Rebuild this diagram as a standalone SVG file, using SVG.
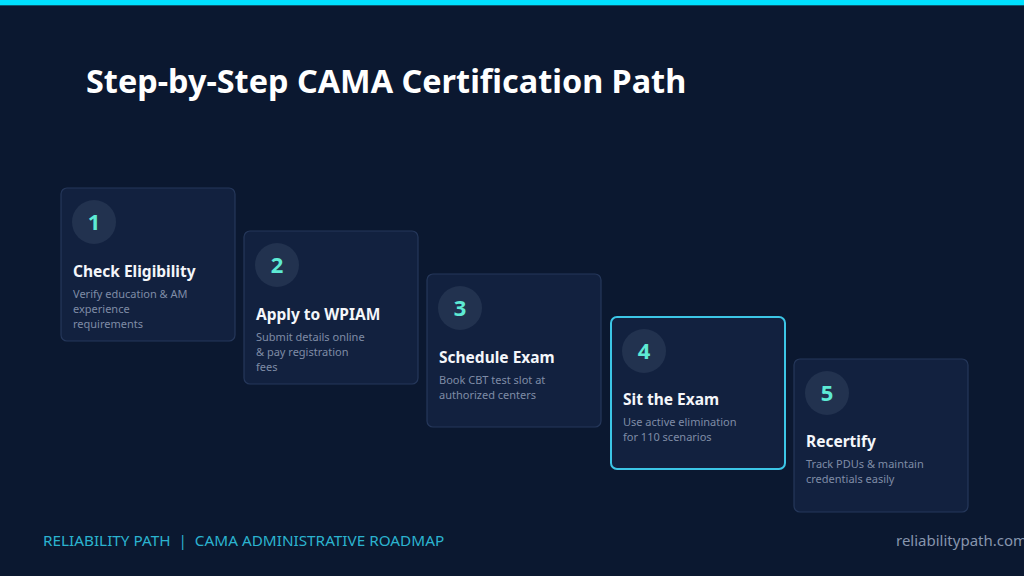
<svg xmlns="http://www.w3.org/2000/svg" width="1024" height="576" viewBox="0 0 1024 576">
  <style>
    .card{fill:#12213f;stroke:#25375a;stroke-width:1.2}
    .card.active{stroke:#3cc6e6;stroke-width:2}
    .circ{fill:#22324f}
    .num{font-family:"Noto Sans","Open Sans",sans-serif;font-weight:700;font-size:22px;fill:#5eead4;text-anchor:middle}
    .head{font-family:"Noto Sans","Open Sans",sans-serif;font-weight:700;font-size:15.5px;fill:#f4f6fa}
    .desc{font-family:"Noto Sans","Open Sans",sans-serif;font-size:11px;fill:#7f8ca6}
  </style>
  <rect x="0" y="0" width="1024" height="576" fill="#0b1830"/>
  <rect x="0" y="0" width="1024" height="5" fill="#00e0ff"/>
  <rect x="0" y="5" width="1024" height="1" fill="#0b5a70"/>
  <text x="86" y="93" font-family="Noto Sans, Open Sans, sans-serif" font-weight="700" font-size="32.4" fill="#ffffff">Step-by-Step CAMA Certification Path</text>

  <g id="connectors"></g>

  <g id="step1">
    <rect class="card" x="61" y="188" width="174" height="153" rx="6"/>
    <circle class="circ" cx="94" cy="222" r="22"/>
    <text class="num" x="94" y="230">1</text>
    <text class="head" x="73" y="277">Check Eligibility</text>
    <text class="desc" x="73" y="298">Verify education &amp; AM</text>
    <text class="desc" x="73" y="313">experience</text>
    <text class="desc" x="73" y="328">requirements</text>
  </g>
  <g id="step2">
    <rect class="card" x="244" y="231" width="174" height="153" rx="6"/>
    <circle class="circ" cx="277" cy="265" r="22"/>
    <text class="num" x="277" y="273">2</text>
    <text class="head" x="256" y="320">Apply to WPIAM</text>
    <text class="desc" x="256" y="341">Submit details online</text>
    <text class="desc" x="256" y="356">&amp; pay registration</text>
    <text class="desc" x="256" y="371">fees</text>
  </g>
  <g id="step3">
    <rect class="card" x="427" y="274" width="174" height="153" rx="6"/>
    <circle class="circ" cx="460" cy="308" r="22"/>
    <text class="num" x="460" y="316">3</text>
    <text class="head" x="439" y="363">Schedule Exam</text>
    <text class="desc" x="439" y="384">Book CBT test slot at</text>
    <text class="desc" x="439" y="399">authorized centers</text>
  </g>
  <g id="step4">
    <rect class="card active" x="611" y="317" width="174" height="152" rx="6"/>
    <circle class="circ" cx="644" cy="351" r="22"/>
    <text class="num" x="644" y="359">4</text>
    <text class="head" x="623" y="405">Sit the Exam</text>
    <text class="desc" x="623" y="426">Use active elimination</text>
    <text class="desc" x="623" y="441">for 110 scenarios</text>
  </g>
  <g id="step5">
    <rect class="card" x="794" y="359" width="174" height="153" rx="6"/>
    <circle class="circ" cx="827" cy="393" r="22"/>
    <text class="num" x="827" y="401">5</text>
    <text class="head" x="806" y="447">Recertify</text>
    <text class="desc" x="806" y="468">Track PDUs &amp; maintain</text>
    <text class="desc" x="806" y="483">credentials easily</text>
  </g>

  <text x="43" y="546" font-family="Noto Sans, Open Sans, sans-serif" font-size="15.3" fill="#2bb3cf" xml:space="preserve">RELIABILITY PATH  |  CAMA ADMINISTRATIVE ROADMAP</text>
  <text x="896" y="546" font-family="Noto Sans, Open Sans, sans-serif" font-size="15" fill="#8795ad">reliabilitypath.com</text>
</svg>
